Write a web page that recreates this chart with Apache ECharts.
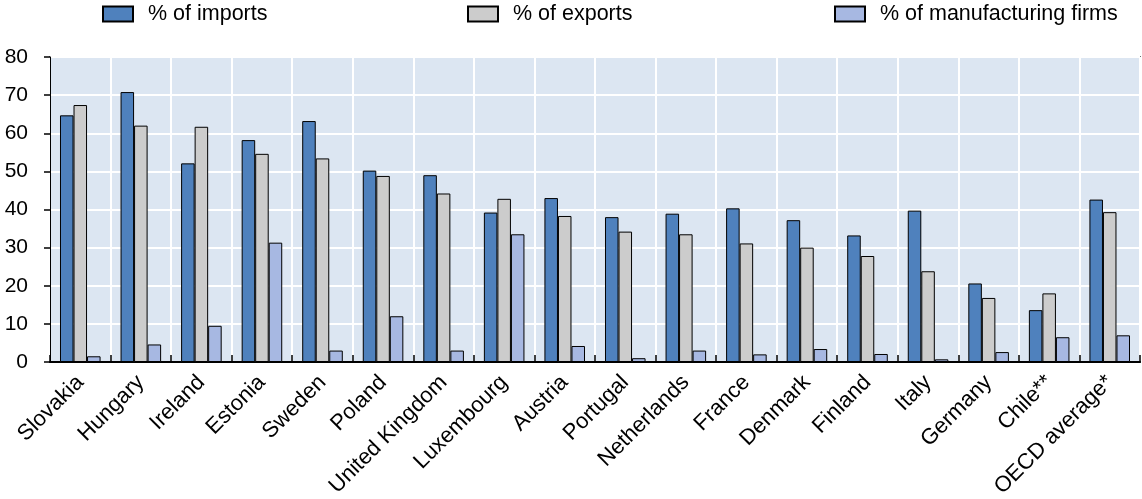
<!DOCTYPE html>
<html>
<head>
<meta charset="utf-8">
<script src="https://cdn.jsdelivr.net/npm/echarts@6/dist/echarts.min.js"></script>
<style>
html,body{margin:0;padding:0;background:#fff;}
#chart{width:1142px;height:499px;}
</style>
</head>
<body>
<div id="chart"></div>
<script>
const categories = ['Slovakia','Hungary','Ireland','Estonia','Sweden','Poland','United Kingdom','Luxembourg','Austria','Portugal','Netherlands','France','Denmark','Finland','Italy','Germany','Chile**','OECD average*'];
const importsPct = [64.7,70.8,52.1,58.2,63.2,50.2,49.0,39.2,43.0,38.0,38.9,40.3,37.2,33.2,39.7,20.6,13.6,42.6];
const exportsPct = [67.4,62.0,61.7,54.6,53.4,48.8,44.2,42.8,38.3,34.2,33.5,31.1,30.0,27.8,23.8,16.8,18.0,39.3];
const firmsPct = [1.5,4.6,9.5,31.3,3.0,12.0,3.0,33.5,4.2,1.0,3.0,2.0,3.4,2.1,0.7,2.6,6.5,7.0];
const seriesNames = ['% of imports','% of exports','% of manufacturing firms'];
const yTicks = {min:0, max:80, interval:10};

const FONT = 'Liberation Sans, Arial, sans-serif';
const colors = ['#4f81bd','#cccccc','#a7b8e2'];
const chart = echarts.init(document.getElementById('chart'), null, {renderer:'canvas'});

const legendLefts = [102, 467, 834];
const legends = seriesNames.map((n,i)=>({
  data:[n], left:legendLefts[i], top:3, orient:'horizontal', padding:0,
  itemWidth:30, itemHeight:15, icon:'rect',
  textStyle:{fontFamily:FONT, fontSize:21.5, color:'#000', padding:[0,0,0,10]},
  selectedMode:false
}));

const dataSets = [importsPct, exportsPct, firmsPct];
chart.setOption({
  animation:false,
  backgroundColor:'#fff',
  textStyle:{fontFamily:FONT},
  legend:legends,
  grid:{left:50, right:2, top:57, bottom:137, show:true, backgroundColor:'#dce6f2', borderColor:'#000', borderWidth:1.5, containLabel:false, outerBoundsMode:'none'},
  xAxis:{
    type:'category', data:categories, boundaryGap:true,
    axisLine:{show:true, lineStyle:{color:'#000', width:2}},
    axisTick:{show:true, inside:true, length:7, interval:0, lineStyle:{color:'#000', width:1.5}},
    splitLine:{show:true, interval:0, lineStyle:{color:'#fff', width:2}},
    axisLabel:{interval:0, rotate:45, margin:17, fontFamily:FONT, fontSize:22, color:'#000', hideOverlap:false, padding:[26,0,0,0]}
  },
  yAxis:{
    type:'value', min:yTicks.min, max:yTicks.max, interval:yTicks.interval,
    axisLine:{show:true, lineStyle:{color:'#000', width:1}},
    axisTick:{show:true, inside:false, length:6, lineStyle:{color:'#000', width:1.5}},
    splitLine:{show:true, lineStyle:{color:'#fff', width:2}},
    axisLabel:{margin:22, fontFamily:FONT, fontSize:21, color:'#000'}
  },
  series:seriesNames.map((n,i)=>({
    name:n, type:'bar', data:dataSets[i],
    barGap:'0%', barCategoryGap:'33%',
    itemStyle:{color:colors[i], borderColor:'#000', borderWidth:1},
    emphasis:{disabled:true}
  }))
});
</script>
</body>
</html>
